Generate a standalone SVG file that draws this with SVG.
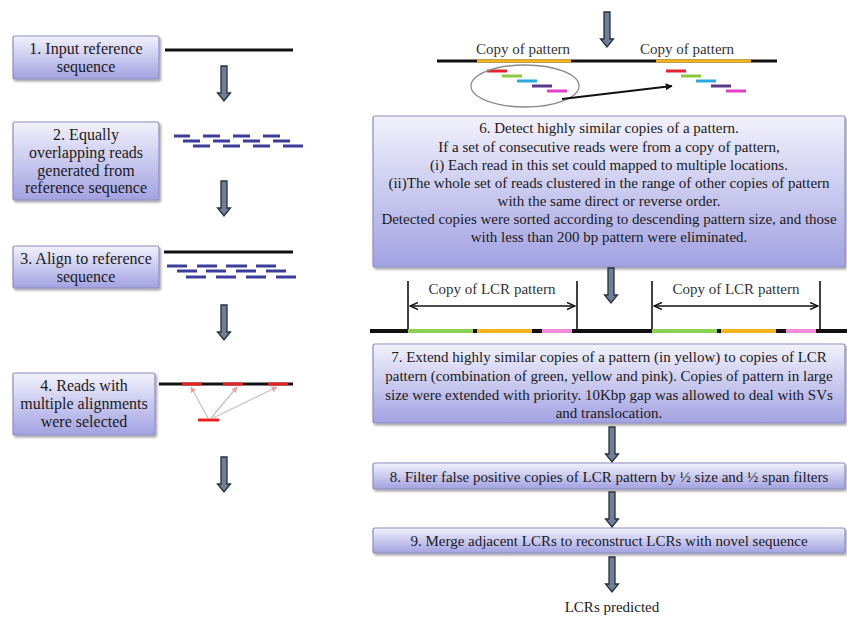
<svg xmlns="http://www.w3.org/2000/svg" width="847" height="618" viewBox="0 0 847 618">
<defs>
<linearGradient id="g" x1="0" y1="0" x2="0" y2="1">
<stop offset="0" stop-color="#F2F2FC"/>
<stop offset="1" stop-color="#A2A2E2"/>
</linearGradient>
<filter id="sh" x="-5%" y="-5%" width="110%" height="130%">
<feDropShadow dx="1.5" dy="2" stdDeviation="1.2" flood-color="#000" flood-opacity="0.35"/>
</filter>
<path id="da" d="M-3,0 H3 V27 H6.5 L0,35 L-6.5,27 H-3 Z" fill="#6E7F96" stroke="#26303E" stroke-width="1.3"/>
<marker id="ah" viewBox="0 0 10 10" refX="9" refY="5" markerWidth="7" markerHeight="7" orient="auto-start-reverse" markerUnits="userSpaceOnUse">
<path d="M0,0 L10,5 L0,10 z" fill="#111"/>
</marker>
<marker id="oh" viewBox="0 0 10 10" refX="9" refY="5" markerWidth="9" markerHeight="9" orient="auto-start-reverse" markerUnits="userSpaceOnUse">
<path d="M0,1 L9,5 L0,9" fill="none" stroke="#111" stroke-width="1.6"/>
</marker>
<marker id="gh" viewBox="0 0 10 10" refX="9" refY="5" markerWidth="6" markerHeight="6" orient="auto" markerUnits="userSpaceOnUse">
<path d="M0,0 L10,5 L0,10 z" fill="#E8A0A0"/>
</marker>
</defs>
<style>
.box{fill:url(#g);stroke:#8E8EC0;stroke-width:1.2;filter:url(#sh)}
text{font-family:'Liberation Serif','DejaVu Serif',serif;fill:#1a1a1a;text-anchor:middle}
.lt{font-size:16px}
.rt{font-size:15px}
.lab{font-size:15px;fill:#333}
.seq{stroke:#111;stroke-width:3;fill:none}
.rd{stroke:#3C3C9C;stroke-width:3}
.r{stroke-width:3}
</style>
<rect width="847" height="618" fill="#fff"/>

<g id="node1">
<rect class="box" x="13" y="36" width="146" height="43" rx="2"/>
<text class="lt" x="86" y="54">1. Input reference</text>
<text class="lt" x="86" y="72">sequence</text>
</g>
<g id="node2">
<rect class="box" x="13" y="122" width="146" height="78" rx="2"/>
<text class="lt" x="86" y="140">2. Equally</text>
<text class="lt" x="86" y="158">overlapping reads</text>
<text class="lt" x="86" y="176">generated from</text>
<text class="lt" x="86" y="193">reference sequence</text>
</g>
<g id="node3">
<rect class="box" x="13" y="246" width="146" height="42" rx="2"/>
<text class="lt" x="86" y="264">3. Align to reference</text>
<text class="lt" x="86" y="282">sequence</text>
</g>
<g id="node4">
<rect class="box" x="13" y="373" width="142" height="62" rx="2"/>
<text class="lt" x="84" y="391">4. Reads with</text>
<text class="lt" x="84" y="409">multiple alignments</text>
<text class="lt" x="84" y="427">were selected</text>
</g>

<g id="illus-left">
<line class="seq" x1="165" y1="50" x2="293" y2="50"/>
<g class="rd">
<line x1="174" y1="136" x2="190" y2="136"/><line x1="203" y1="136" x2="220" y2="136"/><line x1="233" y1="136" x2="250" y2="136"/><line x1="263" y1="136" x2="280" y2="136"/>
<line x1="183" y1="141" x2="200" y2="141"/><line x1="213" y1="141" x2="230" y2="141"/><line x1="243" y1="141" x2="260" y2="141"/><line x1="273" y1="141" x2="290" y2="141"/>
<line x1="193" y1="146" x2="210" y2="146"/><line x1="223" y1="146" x2="240" y2="146"/><line x1="253" y1="146" x2="270" y2="146"/><line x1="283" y1="146" x2="303" y2="146"/>
</g>
<line class="seq" x1="164" y1="252" x2="293" y2="252"/>
<g class="rd">
<line x1="167" y1="266" x2="187" y2="266"/><line x1="197" y1="266" x2="217" y2="266"/><line x1="226" y1="266" x2="247" y2="266"/><line x1="256" y1="266" x2="276" y2="266"/>
<line x1="177" y1="271" x2="197" y2="271"/><line x1="206" y1="271" x2="226" y2="271"/><line x1="236" y1="271" x2="256" y2="271"/><line x1="266" y1="271" x2="286" y2="271"/>
<line x1="186" y1="277" x2="206" y2="277"/><line x1="216" y1="277" x2="236" y2="277"/><line x1="246" y1="277" x2="266" y2="277"/><line x1="276" y1="277" x2="296" y2="277"/>
</g>
<line class="seq" x1="159" y1="384" x2="293" y2="384"/>
<g stroke="#E82020" stroke-width="3">
<line x1="182" y1="384" x2="202" y2="384"/><line x1="223" y1="384" x2="243" y2="384"/><line x1="268" y1="384" x2="288" y2="384"/>
<line x1="198" y1="420" x2="219" y2="420"/>
</g>
<g stroke="#C8C0C0" stroke-width="1.2" marker-end="url(#gh)">
<line x1="208" y1="418" x2="191" y2="387"/>
<line x1="211" y1="418" x2="237" y2="387"/>
<line x1="213" y1="418" x2="277" y2="387"/>
</g>
</g>

<g id="node6">
<rect class="box" x="373" y="116" width="472" height="151" rx="2"/>
<text class="rt" x="609" y="133">6. Detect highly similar copies of a pattern.</text>
<text class="rt" x="609" y="152">If a set of consecutive reads were from a copy of pattern,</text>
<text class="rt" x="609" y="170">(i) Each read in this set could mapped to multiple locations.</text>
<text class="rt" x="609" y="188">(ii)The whole set of reads clustered in the range of other copies of pattern</text>
<text class="rt" x="609" y="206">with the same direct or reverse order.</text>
<text class="rt" x="609" y="224">Detected copies were sorted according to descending pattern size, and those</text>
<text class="rt" x="609" y="242">with less than 200 bp pattern were eliminated.</text>
</g>
<g id="node7">
<rect class="box" x="373" y="344" width="472" height="79" rx="2"/>
<text class="rt" x="609" y="362">7. Extend highly similar copies of a pattern (in yellow) to copies of LCR</text>
<text class="rt" x="609" y="381">pattern (combination of green, yellow and pink). Copies of pattern in large</text>
<text class="rt" x="609" y="400">size were extended with priority. 10Kbp gap was allowed to deal with SVs</text>
<text class="rt" x="609" y="418">and translocation.</text>
</g>
<g id="node8">
<rect class="box" x="373" y="463" width="472" height="26" rx="2"/>
<text class="rt" x="609" y="482">8. Filter false positive copies of LCR pattern by ½ size and ½ span filters</text>
</g>
<g id="node9">
<rect class="box" x="373" y="528" width="472" height="25" rx="2"/>
<text class="rt" x="609" y="546">9. Merge adjacent LCRs to reconstruct LCRs with novel sequence</text>
</g>
<g id="result">
<text class="rt" x="612" y="612">LCRs predicted</text>
</g>

<g id="illus-right">
<line class="seq" x1="437" y1="61" x2="777" y2="61"/>
<g stroke="#F4B41A" stroke-width="3">
<line x1="477" y1="61" x2="571" y2="61"/><line x1="656" y1="61" x2="751" y2="61"/>
</g>
<text class="lab" x="523" y="54">Copy of pattern</text>
<text class="lab" x="687" y="54">Copy of pattern</text>
<g class="r">
<line x1="487" y1="71" x2="507" y2="71" stroke="#E82030"/>
<line x1="502" y1="76" x2="522" y2="76" stroke="#8CC640"/>
<line x1="517" y1="81" x2="537" y2="81" stroke="#2AA8E0"/>
<line x1="532" y1="86" x2="552" y2="86" stroke="#5A3A88"/>
<line x1="547" y1="91" x2="567" y2="91" stroke="#E040C8"/>
<line x1="666" y1="71" x2="686" y2="71" stroke="#E82030"/>
<line x1="681" y1="76" x2="701" y2="76" stroke="#8CC640"/>
<line x1="696" y1="81" x2="716" y2="81" stroke="#2AA8E0"/>
<line x1="711" y1="86" x2="731" y2="86" stroke="#5A3A88"/>
<line x1="726" y1="91" x2="746" y2="91" stroke="#E040C8"/>
</g>
<ellipse cx="525" cy="86" rx="54" ry="21" fill="none" stroke="#8A8A8A" stroke-width="1.3"/>

<g stroke="#111" stroke-width="1.6">
<line x1="408" y1="281" x2="408" y2="331"/><line x1="577" y1="281" x2="577" y2="331"/>
<line x1="652" y1="281" x2="652" y2="331"/><line x1="820" y1="281" x2="820" y2="331"/>
</g>
<text class="lab" x="492" y="294">Copy of LCR pattern</text>
<text class="lab" x="736" y="294">Copy of LCR pattern</text>
<g stroke-width="4">
<line x1="370" y1="331" x2="408" y2="331" stroke="#111"/>
<line x1="408" y1="331" x2="473" y2="331" stroke="#8CD050"/>
<line x1="473" y1="331" x2="477" y2="331" stroke="#111"/>
<line x1="477" y1="331" x2="532" y2="331" stroke="#F4B41A"/>
<line x1="532" y1="331" x2="542" y2="331" stroke="#111"/>
<line x1="542" y1="331" x2="572" y2="331" stroke="#F28CD8"/>
<line x1="572" y1="331" x2="652" y2="331" stroke="#111"/>
<line x1="652" y1="331" x2="717" y2="331" stroke="#8CD050"/>
<line x1="717" y1="331" x2="721" y2="331" stroke="#111"/>
<line x1="721" y1="331" x2="776" y2="331" stroke="#F4B41A"/>
<line x1="776" y1="331" x2="786" y2="331" stroke="#111"/>
<line x1="786" y1="331" x2="816" y2="331" stroke="#F28CD8"/>
<line x1="816" y1="331" x2="847" y2="331" stroke="#111"/>
</g>
</g>

<g id="connectors">
<use href="#da" x="224" y="66"/>
<use href="#da" x="224" y="181"/>
<use href="#da" x="224" y="305"/>
<use href="#da" x="224" y="457"/>
<use href="#da" x="607" y="12"/>
<use href="#da" x="611" y="268"/>
<use href="#da" x="612" y="427"/>
<use href="#da" x="612" y="492"/>
<use href="#da" x="612" y="557"/>
<line x1="562" y1="99" x2="672" y2="86" stroke="#111" stroke-width="2" marker-end="url(#ah)"/>
<line x1="410" y1="306" x2="575" y2="306" stroke="#111" stroke-width="1.5" marker-start="url(#oh)" marker-end="url(#oh)"/>
<line x1="654" y1="306" x2="818" y2="306" stroke="#111" stroke-width="1.5" marker-start="url(#oh)" marker-end="url(#oh)"/>
</g>
</svg>
